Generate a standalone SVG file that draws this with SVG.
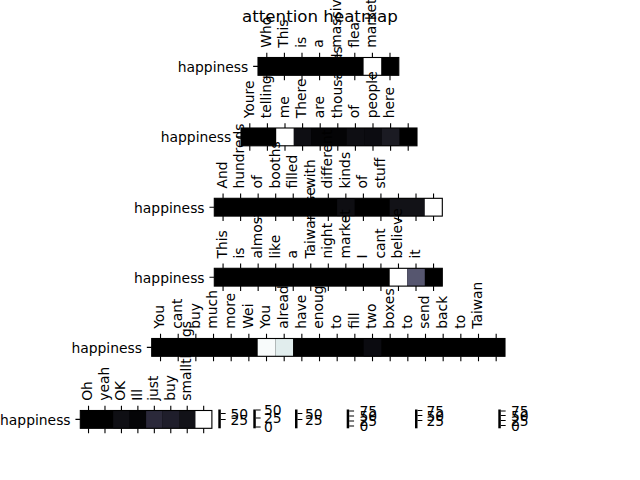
<svg xmlns="http://www.w3.org/2000/svg" width="640" height="480" viewBox="0 0 640 480">
<style>
text{font-family:"DejaVu Sans","Liberation Sans",sans-serif;font-size:13.89px;fill:#000}
.yl{text-anchor:end}
.bg{fill:#000}
.sp{fill:none;stroke:#000;stroke-width:1.1}
.tk{fill:none;stroke:#000;stroke-width:1.1}
.cb{fill:#000}
.title{font-size:16.67px;text-anchor:middle}
</style>
<rect width="640" height="480" fill="#fff"/>
<g id="row1">
<rect class="bg" x="258" y="57.5" width="140.8" height="17.8"/>
<rect x="363.6" y="57.5" width="17.6" height="17.8" fill="#fff"/>
<rect class="sp" x="258" y="57.5" width="140.8" height="17.8"/>
<path class="tk" d="M266.8 57.5v-4.86M284.4 57.5v-4.86M302 57.5v-4.86M319.6 57.5v-4.86M337.2 57.5v-4.86M354.8 57.5v-4.86M372.4 57.5v-4.86M390 57.5v-4.86M266.8 75.3v4.86M284.4 75.3v4.86M302 75.3v4.86M319.6 75.3v4.86M337.2 75.3v4.86M354.8 75.3v4.86M372.4 75.3v4.86M390 75.3v4.86M258 66.4h-4.86"/>
<text class="yl" x="248.3" y="71.7">happiness</text>
<text transform="translate(270.6,47.8) rotate(-90)">Who</text>
<text transform="translate(288.2,47.8) rotate(-90)">This</text>
<text transform="translate(305.8,47.8) rotate(-90)">is</text>
<text transform="translate(323.4,47.8) rotate(-90)">a</text>
<text transform="translate(341,47.8) rotate(-90)">massive</text>
<text transform="translate(358.6,47.8) rotate(-90)">flea</text>
<text transform="translate(376.2,47.8) rotate(-90)">market</text>
</g>
<g id="row2">
<rect class="bg" x="241" y="128" width="176" height="17.8"/>
<rect x="276.2" y="128" width="17.6" height="17.8" fill="#fff"/>
<rect x="293.8" y="128" width="17.6" height="17.8" fill="#0e0e13"/>
<rect x="311.4" y="128" width="35.2" height="17.8" fill="#040406"/>
<rect x="346.6" y="128" width="17.6" height="17.8" fill="#0e0e13"/>
<rect x="364.2" y="128" width="17.6" height="17.8" fill="#0c0c11"/>
<rect x="381.8" y="128" width="17.6" height="17.8" fill="#1b1b23"/>
<rect class="sp" x="241" y="128" width="176" height="17.8"/>
<path class="tk" d="M249.8 128v-4.86M267.4 128v-4.86M285 128v-4.86M302.6 128v-4.86M320.2 128v-4.86M337.8 128v-4.86M355.4 128v-4.86M373 128v-4.86M390.6 128v-4.86M408.2 128v-4.86M249.8 145.8v4.86M267.4 145.8v4.86M285 145.8v4.86M302.6 145.8v4.86M320.2 145.8v4.86M337.8 145.8v4.86M355.4 145.8v4.86M373 145.8v4.86M390.6 145.8v4.86M408.2 145.8v4.86M241 136.9h-4.86"/>
<text class="yl" x="231.3" y="142.2">happiness</text>
<text transform="translate(253.6,118.3) rotate(-90)">Youre</text>
<text transform="translate(271.2,118.3) rotate(-90)">telling</text>
<text transform="translate(288.8,118.3) rotate(-90)">me</text>
<text transform="translate(306.4,118.3) rotate(-90)">There</text>
<text transform="translate(324,118.3) rotate(-90)">are</text>
<text transform="translate(341.6,118.3) rotate(-90)">thousands</text>
<text transform="translate(359.2,118.3) rotate(-90)">of</text>
<text transform="translate(376.8,118.3) rotate(-90)">people</text>
<text transform="translate(394.4,118.3) rotate(-90)">here</text>
</g>
<g id="row3">
<rect class="bg" x="214.3" y="198.3" width="228" height="17.8"/>
<rect x="337.08" y="198.3" width="17.54" height="17.8" fill="#0e0e12"/>
<rect x="389.7" y="198.3" width="35.08" height="17.8" fill="#121217"/>
<rect x="424.78" y="198.3" width="17.54" height="17.8" fill="#fff"/>
<rect class="sp" x="214.3" y="198.3" width="228" height="17.8"/>
<path class="tk" d="M223.07 198.3v-4.86M240.61 198.3v-4.86M258.15 198.3v-4.86M275.69 198.3v-4.86M293.23 198.3v-4.86M310.77 198.3v-4.86M328.31 198.3v-4.86M345.85 198.3v-4.86M363.39 198.3v-4.86M380.93 198.3v-4.86M398.47 198.3v-4.86M416.01 198.3v-4.86M433.55 198.3v-4.86M223.07 216.1v4.86M240.61 216.1v4.86M258.15 216.1v4.86M275.69 216.1v4.86M293.23 216.1v4.86M310.77 216.1v4.86M328.31 216.1v4.86M345.85 216.1v4.86M363.39 216.1v4.86M380.93 216.1v4.86M398.47 216.1v4.86M416.01 216.1v4.86M433.55 216.1v4.86M214.3 207.2h-4.86"/>
<text class="yl" x="204.6" y="212.5">happiness</text>
<text transform="translate(226.9,188.6) rotate(-90)">And</text>
<text transform="translate(244.4,188.6) rotate(-90)">hundreds</text>
<text transform="translate(262,188.6) rotate(-90)">of</text>
<text transform="translate(279.5,188.6) rotate(-90)">booths</text>
<text transform="translate(297,188.6) rotate(-90)">filled</text>
<text transform="translate(314.6,188.6) rotate(-90)">with</text>
<text transform="translate(332.1,188.6) rotate(-90)">different</text>
<text transform="translate(349.7,188.6) rotate(-90)">kinds</text>
<text transform="translate(367.2,188.6) rotate(-90)">of</text>
<text transform="translate(384.7,188.6) rotate(-90)">stuff</text>
</g>
<g id="row4">
<rect class="bg" x="214.3" y="268.3" width="228" height="17.8"/>
<rect x="389.7" y="268.3" width="17.54" height="17.8" fill="#fff"/>
<rect x="407.24" y="268.3" width="17.54" height="17.8" fill="#56566f"/>
<rect class="sp" x="214.3" y="268.3" width="228" height="17.8"/>
<path class="tk" d="M223.07 268.3v-4.86M240.61 268.3v-4.86M258.15 268.3v-4.86M275.69 268.3v-4.86M293.23 268.3v-4.86M310.77 268.3v-4.86M328.31 268.3v-4.86M345.85 268.3v-4.86M363.39 268.3v-4.86M380.93 268.3v-4.86M398.47 268.3v-4.86M416.01 268.3v-4.86M433.55 268.3v-4.86M223.07 286.1v4.86M240.61 286.1v4.86M258.15 286.1v4.86M275.69 286.1v4.86M293.23 286.1v4.86M310.77 286.1v4.86M328.31 286.1v4.86M345.85 286.1v4.86M363.39 286.1v4.86M380.93 286.1v4.86M398.47 286.1v4.86M416.01 286.1v4.86M433.55 286.1v4.86M214.3 277.2h-4.86"/>
<text class="yl" x="204.6" y="282.5">happiness</text>
<text transform="translate(226.9,258.6) rotate(-90)">This</text>
<text transform="translate(244.4,258.6) rotate(-90)">is</text>
<text transform="translate(262,258.6) rotate(-90)">almost</text>
<text transform="translate(279.5,258.6) rotate(-90)">like</text>
<text transform="translate(297,258.6) rotate(-90)">a</text>
<text transform="translate(314.6,258.6) rotate(-90)">Taiwanese</text>
<text transform="translate(332.1,258.6) rotate(-90)">night</text>
<text transform="translate(349.7,258.6) rotate(-90)">market</text>
<text transform="translate(367.2,258.6) rotate(-90)">I</text>
<text transform="translate(384.7,258.6) rotate(-90)">cant</text>
<text transform="translate(402.3,258.6) rotate(-90)">believe</text>
<text transform="translate(419.8,258.6) rotate(-90)">it</text>
</g>
<g id="row5">
<rect class="bg" x="151.7" y="338.5" width="353.3" height="17.8"/>
<rect x="257.69" y="338.5" width="17.67" height="17.8" fill="#f8fbfb"/>
<rect x="275.36" y="338.5" width="17.67" height="17.8" fill="#e1eded"/>
<rect x="363.68" y="338.5" width="17.67" height="17.8" fill="#0b0b10"/>
<rect class="sp" x="151.7" y="338.5" width="353.3" height="17.8"/>
<path class="tk" d="M160.53 338.5v-4.86M178.2 338.5v-4.86M195.86 338.5v-4.86M213.53 338.5v-4.86M231.19 338.5v-4.86M248.86 338.5v-4.86M266.52 338.5v-4.86M284.19 338.5v-4.86M301.85 338.5v-4.86M319.52 338.5v-4.86M337.18 338.5v-4.86M354.85 338.5v-4.86M372.51 338.5v-4.86M390.18 338.5v-4.86M407.84 338.5v-4.86M425.51 338.5v-4.86M443.17 338.5v-4.86M460.84 338.5v-4.86M478.5 338.5v-4.86M496.17 338.5v-4.86M160.53 356.3v4.86M178.2 356.3v4.86M195.86 356.3v4.86M213.53 356.3v4.86M231.19 356.3v4.86M248.86 356.3v4.86M266.52 356.3v4.86M284.19 356.3v4.86M301.85 356.3v4.86M319.52 356.3v4.86M337.18 356.3v4.86M354.85 356.3v4.86M372.51 356.3v4.86M390.18 356.3v4.86M407.84 356.3v4.86M425.51 356.3v4.86M443.17 356.3v4.86M460.84 356.3v4.86M478.5 356.3v4.86M496.17 356.3v4.86M151.7 347.4h-4.86"/>
<text class="yl" x="142" y="352.7">happiness</text>
<text transform="translate(164.3,328.8) rotate(-90)">You</text>
<text transform="translate(182,328.8) rotate(-90)">cant</text>
<text transform="translate(199.7,328.8) rotate(-90)">buy</text>
<text transform="translate(217.3,328.8) rotate(-90)">much</text>
<text transform="translate(235,328.8) rotate(-90)">more</text>
<text transform="translate(252.7,328.8) rotate(-90)">Wei</text>
<text transform="translate(270.3,328.8) rotate(-90)">You</text>
<text transform="translate(288,328.8) rotate(-90)">already</text>
<text transform="translate(305.7,328.8) rotate(-90)">have</text>
<text transform="translate(323.3,328.8) rotate(-90)">enough</text>
<text transform="translate(341,328.8) rotate(-90)">to</text>
<text transform="translate(358.7,328.8) rotate(-90)">fill</text>
<text transform="translate(376.3,328.8) rotate(-90)">two</text>
<text transform="translate(394,328.8) rotate(-90)">boxes</text>
<text transform="translate(411.6,328.8) rotate(-90)">to</text>
<text transform="translate(429.3,328.8) rotate(-90)">send</text>
<text transform="translate(447,328.8) rotate(-90)">back</text>
<text transform="translate(464.6,328.8) rotate(-90)">to</text>
<text transform="translate(482.3,328.8) rotate(-90)">Taiwan</text>
</g>
<g id="row6">
<rect class="bg" x="80.3" y="410.5" width="131.6" height="17.8"/>
<rect x="113.2" y="410.5" width="16.45" height="17.8" fill="#0f0f14"/>
<rect x="129.65" y="410.5" width="16.45" height="17.8" fill="#050507"/>
<rect x="146.1" y="410.5" width="16.45" height="17.8" fill="#2b293a"/>
<rect x="162.55" y="410.5" width="16.45" height="17.8" fill="#1f1e2b"/>
<rect x="179" y="410.5" width="16.45" height="17.8" fill="#121218"/>
<rect x="195.45" y="410.5" width="16.45" height="17.8" fill="#fff"/>
<rect class="sp" x="80.3" y="410.5" width="131.6" height="17.8"/>
<path class="tk" d="M88.53 410.5v-4.86M104.98 410.5v-4.86M121.43 410.5v-4.86M137.88 410.5v-4.86M154.33 410.5v-4.86M170.78 410.5v-4.86M187.23 410.5v-4.86M203.68 410.5v-4.86M88.53 428.3v4.86M104.98 428.3v4.86M121.43 428.3v4.86M137.88 428.3v4.86M154.33 428.3v4.86M170.78 428.3v4.86M187.23 428.3v4.86M203.68 428.3v4.86M80.3 419.4h-4.86"/>
<text class="yl" x="70.6" y="424.7">happiness</text>
<text transform="translate(92.3,400.8) rotate(-90)">Oh</text>
<text transform="translate(108.8,400.8) rotate(-90)">yeah</text>
<text transform="translate(125.2,400.8) rotate(-90)">OK</text>
<text transform="translate(141.7,400.8) rotate(-90)">Ill</text>
<text transform="translate(158.1,400.8) rotate(-90)">just</text>
<text transform="translate(174.6,400.8) rotate(-90)">buy</text>
<text transform="translate(191,400.8) rotate(-90)">smallthings</text>
</g>
<g id="colorbar1">
<rect class="cb" x="218.3" y="409.5" width="2.5" height="18.8"/>
<path class="tk" d="M220.8 413.5h4.86M220.8 419.5h4.86"/>
<text x="230.5" y="418.8">50</text>
<text x="230.5" y="424.8">25</text>
</g>
<g id="colorbar2">
<rect class="cb" x="253.3" y="409.5" width="2.5" height="18.8"/>
<path class="tk" d="M255.8 410h4.86M255.8 418h4.86M255.8 427h4.86"/>
<text x="264" y="415.3">50</text>
<text x="264" y="423.3">25</text>
<text x="264" y="432.3">0</text>
</g>
<g id="colorbar3">
<rect class="cb" x="295" y="409.5" width="2.5" height="18.8"/>
<path class="tk" d="M297.5 413.5h4.86M297.5 419.5h4.86"/>
<text x="305" y="418.8">50</text>
<text x="305" y="424.8">25</text>
</g>
<g id="colorbar4">
<rect class="cb" x="346.7" y="409.5" width="2.5" height="18.8"/>
<path class="tk" d="M349.2 411h4.86M349.2 416h4.86M349.2 421h4.86M349.2 426h4.86"/>
<text x="359.5" y="416.3">75</text>
<text x="359.5" y="421.3">50</text>
<text x="359.5" y="426.3">25</text>
<text x="359.5" y="431.3">0</text>
</g>
<g id="colorbar5">
<rect class="cb" x="415" y="409.5" width="2.5" height="18.8"/>
<path class="tk" d="M417.5 410.5h4.86M417.5 415.5h4.86M417.5 420.5h4.86"/>
<text x="426.5" y="415.8">75</text>
<text x="426.5" y="420.8">50</text>
<text x="426.5" y="425.8">25</text>
</g>
<g id="colorbar6">
<rect class="cb" x="498.3" y="409.5" width="2.5" height="18.8"/>
<path class="tk" d="M500.8 411h4.86M500.8 415.5h4.86M500.8 420.5h4.86M500.8 425.5h4.86"/>
<text x="511" y="416.3">75</text>
<text x="511" y="420.8">50</text>
<text x="511" y="425.8">25</text>
<text x="511" y="430.8">0</text>
</g>
<text class="title" x="320" y="22.3">attention heatmap</text>
</svg>
